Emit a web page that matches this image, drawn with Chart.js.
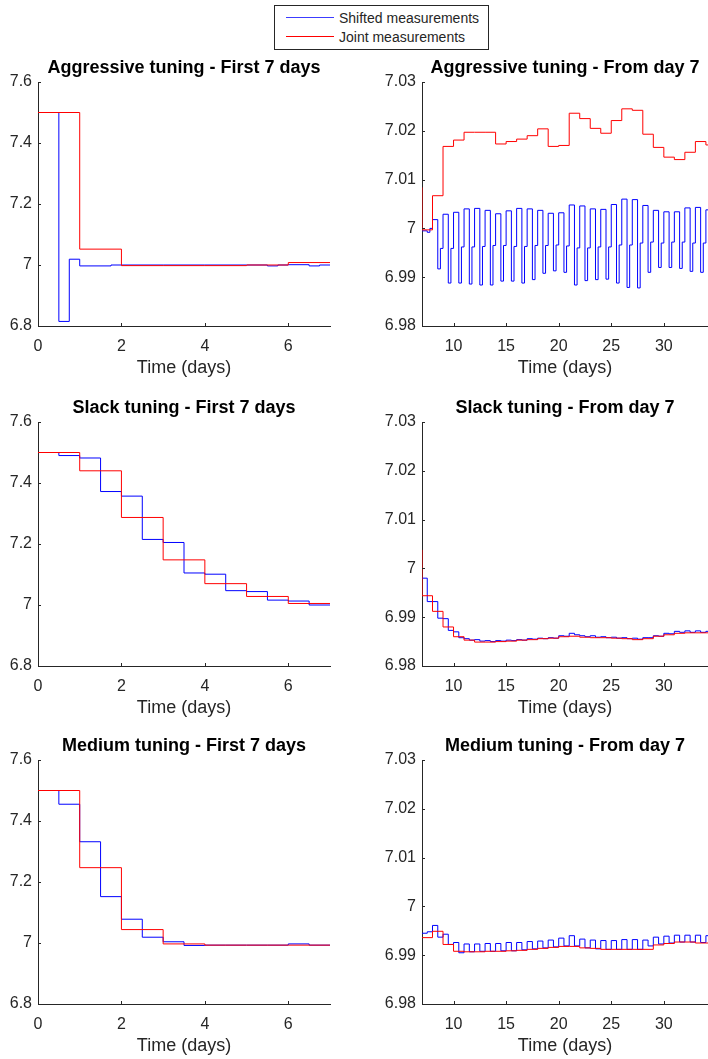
<!DOCTYPE html>
<html>
<head>
<meta charset="utf-8">
<script src="https://cdn.jsdelivr.net/npm/chart.js@4"></script>
<style>
body{margin:0;background:#fff;width:708px;height:1059px;overflow:hidden;position:relative;font-family:"Liberation Sans",Arial,sans-serif}
canvas{position:absolute}
#legend{position:absolute;left:274px;top:5px;width:213px;height:43px;border:1px solid #262626;background:#fff;font-size:14px;color:#262626;z-index:2}
#legend .row{position:absolute;left:0;width:100%;height:18px}
#legend .swatch{position:absolute;left:11px;top:8px;width:48px;height:0;border-top-width:1px;border-top-style:solid}
#legend .label{position:absolute;left:64px;top:0;line-height:18px;white-space:nowrap}
</style>
</head>
<body>
<div id="legend">
  <div class="row" style="top:3px"><div class="swatch" style="border-top-color:#3c3cff"></div><div class="label">Shifted measurements</div></div>
  <div class="row" style="top:22px"><div class="swatch" style="border-top-color:#ff0000"></div><div class="label">Joint measurements</div></div>
</div>
<canvas id="aggFirst" width="354" height="338" style="left:0;top:46px"></canvas>
<canvas id="aggFrom" width="354" height="338" style="left:354px;top:46px"></canvas>
<canvas id="slackFirst" width="354" height="338" style="left:0;top:386px"></canvas>
<canvas id="slackFrom" width="354" height="338" style="left:354px;top:386px"></canvas>
<canvas id="medFirst" width="354" height="338" style="left:0;top:724px"></canvas>
<canvas id="medFrom" width="354" height="338" style="left:354px;top:724px"></canvas>
<script>
// tick labels
var firstXTicks = [0, 2, 4, 6]
var firstYTicks = [6.8, 7, 7.2, 7.4, 7.6]
var fromXTicks = [10, 15, 20, 25, 30]
var fromYTicks = [6.98, 6.99, 7, 7.01, 7.02, 7.03]

// step change times (days)
var firstJointDays = [0, 1, 2, 3, 4, 5, 6]
var firstShiftedDays = [0, 0.5, 1, 1.5, 2, 2.5, 3, 3.5, 4, 4.5, 5, 5.5, 6, 6.5]
var fromJointDays = [7, 7, 8, 9, 10, 11, 12, 13, 14, 15, 16, 17, 18, 19, 20, 21, 22, 23, 24, 25, 26, 27, 28, 29, 30, 31, 32, 33, 34]
var fromShiftedDays = [7, 7.5, 8, 8.5, 9, 9.5, 10, 10.5, 11, 11.5, 12, 12.5, 13, 13.5, 14, 14.5, 15, 15.5, 16, 16.5, 17, 17.5, 18, 18.5, 19, 19.5, 20, 20.5,
  21, 21.5, 22, 22.5, 23, 23.5, 24, 24.5, 25, 25.5, 26, 26.5, 27, 27.5, 28, 28.5, 29, 29.5, 30, 30.5, 31, 31.5, 32, 32.5, 33, 33.5, 34]

// aggressive tuning
var aggFirstShiftedX = [0, 0.5, 0.75, 1, 1.75, 2, 3, 4, 5, 5.5, 5.75, 6, 6.5, 6.75]
var aggFirstShiftedY = [7.5, 6.815, 7.019, 6.997, 7.0, 7.0, 7.0, 7.0, 7.0, 6.997, 7.0, 7.001, 6.997, 7.0]
var aggFirstJointY = [7.5, 7.052, 6.998, 6.998, 6.998, 7.0, 7.008]
var aggFromShiftedX = [7, 7.5, 7.75, 8, 8.5, 8.75, 9, 9.5, 9.75, 10, 10.5, 10.75, 11, 11.5, 11.75, 12, 12.5, 12.75, 13, 13.5, 13.75,
  14, 14.5, 14.75, 15, 15.5, 15.75, 16, 16.5, 16.75, 17, 17.5, 17.75, 18, 18.5, 18.75, 19, 19.5, 19.75, 20, 20.5, 20.75,
  21, 21.5, 21.75, 22, 22.5, 22.75, 23, 23.5, 23.75, 24, 24.5, 24.75, 25, 25.5, 25.75, 26, 26.5, 26.75, 27, 27.5, 27.75,
  28, 28.5, 28.75, 29, 29.5, 29.75, 30, 30.5, 30.75, 31, 31.5, 31.75, 32, 32.5, 32.75, 33, 33.5, 33.75, 34]
var aggFromShiftedY = [6.9995, 6.9992, 7.0, 7.0018, 6.9917, 6.9959, 7.0029, 6.9888, 6.9959, 7.0033, 6.9888, 6.9962,
  7.0040, 6.9886, 6.9962, 7.0041, 6.9884, 6.9963, 7.0037, 6.9884, 6.9965, 7.0030, 6.9892, 6.9965, 7.0036, 6.9892, 6.9963,
  7.0041, 6.9888, 6.9963, 7.0040, 6.9895, 6.9965, 7.0037, 6.9908, 6.9965, 7.0031, 6.9913, 6.9966, 7.0032, 6.9910, 6.9964,
  7.0048, 6.9884, 6.9960, 7.0046, 6.9893, 6.9960, 7.0040, 6.9895, 6.9962, 7.0039, 6.9896, 6.9962, 7.0049, 6.9888, 6.9966,
  7.0060, 6.9879, 6.9966, 7.0059, 6.9878, 6.9970, 7.0047, 6.9910, 6.9972, 7.0037, 6.9920, 6.9970, 7.0034, 6.9920, 6.9972,
  7.0034, 6.9918, 6.9972, 7.0042, 6.9912, 6.9970, 7.0043, 6.9910, 6.9970, 7.0038]
var aggFromJointY = [7.0084, 6.9997, 7.0067, 7.0168, 7.0181, 7.0197, 7.0197, 7.0197, 7.0173, 7.0178, 7.0183, 7.0190, 7.0204, 7.0168,
  7.0170, 7.0236, 7.0225, 7.0205, 7.0195, 7.0221, 7.0245, 7.0242, 7.0193, 7.0166, 7.0146, 7.0141, 7.0156, 7.0178, 7.0171]

// slack tuning
var slackFirstShiftedY = [7.5, 7.49, 7.482, 7.372, 7.357, 7.215, 7.205, 7.105, 7.101, 7.047, 7.044, 7.016, 7.013, 7.0]
var slackFirstJointY = [7.5, 7.44, 7.287, 7.148, 7.07, 7.028, 7.005]
var slackFromShiftedY = [6.998, 6.9932, 6.9932, 6.9898, 6.9897, 6.9873, 6.9870, 6.9858, 6.9856, 6.9853, 6.9854, 6.9851, 6.9852, 6.9850,
  6.9852, 6.9851, 6.9853, 6.9852, 6.9854, 6.9853, 6.9856, 6.9855, 6.9857, 6.9856, 6.9858, 6.9857, 6.9862, 6.9861,
  6.9867, 6.9864, 6.9862, 6.9860, 6.9862, 6.9859, 6.9860, 6.9858, 6.9859, 6.9857, 6.9858, 6.9856, 6.9857, 6.9855,
  6.9858, 6.9858, 6.9862, 6.9861, 6.9867, 6.9866, 6.9871, 6.9869, 6.9872, 6.9869, 6.9872, 6.9869, 6.9871]
var slackFromJointY = [7.0038, 6.9944, 6.9912, 6.9880, 6.9860, 6.9853, 6.9849, 6.9849, 6.9850, 6.9851, 6.9853, 6.9854, 6.9856, 6.9857,
  6.9860, 6.9861, 6.9859, 6.9858, 6.9858, 6.9857, 6.9856, 6.9854, 6.9856, 6.9861, 6.9864, 6.9867, 6.9868, 6.9868, 6.9868]

// medium tuning
var medFirstShiftedY = [7.5, 7.455, 7.332, 7.152, 7.078, 7.019, 7.004, 6.992, 6.993, 6.993, 6.993, 6.993, 6.997, 6.993]
var medFirstJointY = [7.5, 7.247, 7.044, 6.997, 6.993, 6.993, 6.993]
var medFromShiftedY = [6.9945, 6.9948, 6.9961, 6.9937, 6.9943, 6.9922, 6.9926, 6.9905, 6.9923, 6.9907, 6.9923, 6.9908, 6.9924, 6.9908,
  6.9924, 6.9909, 6.9926, 6.9909, 6.9926, 6.9911, 6.9928, 6.9913, 6.9929, 6.9915, 6.9931, 6.9917, 6.9935, 6.9919,
  6.9940, 6.9919, 6.9933, 6.9915, 6.9931, 6.9913, 6.9930, 6.9912, 6.9930, 6.9912, 6.9932, 6.9912, 6.9932, 6.9912,
  6.9931, 6.9919, 6.9937, 6.9923, 6.9939, 6.9925, 6.9941, 6.9927, 6.9941, 6.9927, 6.9941, 6.9926, 6.9940]
var medFromJointY = [6.9936, 6.9936, 6.9949, 6.9922, 6.9908, 6.9907, 6.9907, 6.9908, 6.9908, 6.9909, 6.9910, 6.9912, 6.9914, 6.9916,
  6.9918, 6.9918, 6.9915, 6.9914, 6.9912, 6.9912, 6.9912, 6.9912, 6.9912, 6.9921, 6.9924, 6.9927, 6.9927, 6.9925, 6.9925]

var axisColor = '#262626'
var firstRange = {xMin: 0, xMax: 7, yMin: 6.8, yMax: 7.6, xTicks: firstXTicks, yTicks: firstYTicks, padRight: 24, yWidth: 38}
var fromRange = {xMin: 7, xMax: 34.2, yMin: 6.98, yMax: 7.03, xTicks: fromXTicks, yTicks: fromYTicks, padRight: 0, yWidth: 68}

Chart.defaults.font.family = '"Liberation Sans", Arial, Helvetica, sans-serif'
Chart.defaults.color = axisColor

function steps(xs, ys, xEnd) {
  var pts = xs.map(function (x, i) { return {x: x, y: ys[i]} })
  pts.push({x: xEnd, y: ys[ys.length - 1]})
  return pts
}

function fixedTicks(values) {
  return function (scale) {
    scale.ticks = values.map(function (v) { return {value: v} })
  }
}

// matlab style tick marks pointing into the plot
var inwardTicks = {
  id: 'inwardTicks',
  afterDatasetsDraw: function (chart) {
    var ctx = chart.ctx, area = chart.chartArea, sx = chart.scales.x, sy = chart.scales.y
    ctx.save()
    ctx.strokeStyle = axisColor
    ctx.lineWidth = 1
    ctx.beginPath()
    sx.ticks.forEach(function (t) {
      var px = Math.round(sx.getPixelForValue(t.value)) + 0.5
      ctx.moveTo(px, area.bottom)
      ctx.lineTo(px, area.bottom - 3)
    })
    sy.ticks.forEach(function (t) {
      var py = Math.round(sy.getPixelForValue(t.value)) + 0.5
      ctx.moveTo(area.left, py)
      ctx.lineTo(area.left + 3, py)
    })
    ctx.stroke()
    ctx.restore()
  }
}

function panel(id, title, r, shiftedX, shiftedY, jointX, jointY) {
  return new Chart(document.getElementById(id), {
    type: 'line',
    data: {
      datasets: [
        {label: 'Joint measurements', data: steps(jointX, jointY, r.xMax), borderColor: '#ff0000'},
        {label: 'Shifted measurements', data: steps(shiftedX, shiftedY, r.xMax), borderColor: '#0000ff'}
      ]
    },
    options: {
      responsive: false,
      animation: false,
      events: [],
      layout: {padding: {left: 0, right: r.padRight, top: 0, bottom: 0}},
      elements: {
        line: {borderWidth: 1, stepped: 'before', tension: 0, fill: false},
        point: {radius: 0}
      },
      plugins: {
        legend: {display: false},
        tooltip: {enabled: false},
        title: {
          display: true,
          fullSize: false,
          text: title,
          color: '#000',
          font: {size: 18, weight: 'bold'},
          padding: {top: 11.4, bottom: 3}
        }
      },
      scales: {
        x: {
          type: 'linear',
          min: r.xMin,
          max: r.xMax,
          bounds: 'data',
          afterBuildTicks: fixedTicks(r.xTicks),
          afterFit: function (s) { s.height = 58 },
          grid: {display: false, drawTicks: false},
          border: {display: true, color: axisColor, width: 1},
          ticks: {padding: 11, color: axisColor, font: {size: 16}, maxRotation: 0, autoSkip: false},
          title: {display: true, text: 'Time (days)', color: axisColor, font: {size: 18}, padding: {top: 0, bottom: 5.5}}
        },
        y: {
          type: 'linear',
          min: r.yMin,
          max: r.yMax,
          bounds: 'data',
          afterBuildTicks: fixedTicks(r.yTicks),
          afterFit: function (s) { s.width = r.yWidth },
          grid: {display: false, drawTicks: false},
          border: {display: true, color: axisColor, width: 1},
          ticks: {
            padding: 6,
            color: axisColor,
            font: {size: 16},
            autoSkip: false,
            callback: function (v) { return String(Number(v.toFixed(4))) }
          }
        }
      }
    },
    plugins: [inwardTicks]
  })
}

panel('aggFirst', 'Aggressive tuning - First 7 days', firstRange, aggFirstShiftedX, aggFirstShiftedY, firstJointDays, aggFirstJointY)
panel('aggFrom', 'Aggressive tuning - From day 7', fromRange, aggFromShiftedX, aggFromShiftedY, fromJointDays, aggFromJointY)
panel('slackFirst', 'Slack tuning - First 7 days', firstRange, firstShiftedDays, slackFirstShiftedY, firstJointDays, slackFirstJointY)
panel('slackFrom', 'Slack tuning - From day 7', fromRange, fromShiftedDays, slackFromShiftedY, fromJointDays, slackFromJointY)
panel('medFirst', 'Medium tuning - First 7 days', firstRange, firstShiftedDays, medFirstShiftedY, firstJointDays, medFirstJointY)
panel('medFrom', 'Medium tuning - From day 7', fromRange, fromShiftedDays, medFromShiftedY, fromJointDays, medFromJointY)
</script>
</body>
</html>
